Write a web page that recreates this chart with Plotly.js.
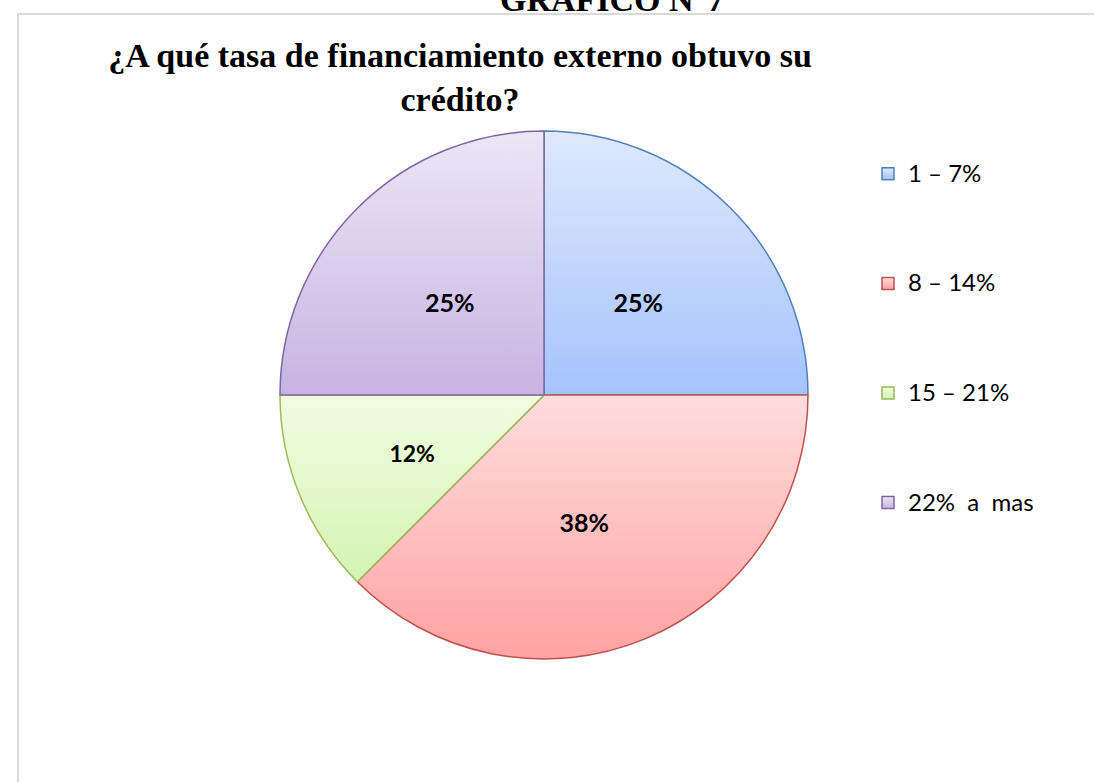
<!DOCTYPE html>
<html>
<head>
<meta charset="utf-8">
<script src="https://cdn.plot.ly/plotly-3.0.1.min.js"></script>
<style>
  html, body { margin: 0; padding: 0; background: #ffffff; }
  #chart { width: 1094px; height: 782px; }
</style>
</head>
<body>
<div id="chart"></div>
<script>
// ---- data ----
const categories = ["1 – 7%", "8 – 14%", "15 – 21%", "22%  a  mas"];
const values = [2, 3, 1, 2];
const pctLabels = ["25%", "38%", "12%", "25%"];
const chartTitle = "¿A qué tasa de financiamiento externo obtuvo su<br>crédito?";
const headerText = "GRAFICO N°7";

// ---- styles ----
const fillColors = ["#c2d6fc", "#ffc0c0", "#e6f8cf", "#dacdec"];
const gradTop = ["#dfe9fd", "#ffdddd", "#f1fde2", "#ece6f6"];
const gradBottom = ["#a5c3fc", "#ffa2a2", "#d5f3b3", "#c7b4e2"];
const lineColors = ["#4f81bd", "#c0504d", "#9bbb59", "#8064a2"];

const NB = "\u00a0";
// invisible padding so Plotly's inside labels sit where the reference shows them
const padBefore = [NB + "<br>", "", NB.repeat(16), NB + "<br>" + NB.repeat(5)];
const padAfter = [NB.repeat(5), NB.repeat(4), "<br>" + NB, ""];
const sliceText = pctLabels.map((t, i) => padBefore[i] + t + padAfter[i]);

// legend labels padded with blank lines to spread the entries vertically
const legendLabels = categories.map(c => "<span style='font-size:24px'>" + c + "</span><br> <br> <br> ");

const W = 1094, H = 782;

const trace = {
  type: "pie",
  labels: legendLabels,
  values: values,
  text: sliceText,
  textinfo: "text",
  textposition: "inside",
  insidetextorientation: "horizontal",
  sort: false,
  direction: "clockwise",
  rotation: 0,
  marker: { colors: fillColors, line: { color: lineColors, width: 1.5 } },
  textfont: { family: "Lato, 'Liberation Sans', sans-serif", size: 25, color: "#000000", weight: "bold" },
  domain: { x: [280 / W, 808 / W], y: [(H - 659) / H, (H - 131) / H] },
  hoverinfo: "percent"
};

const layout = {
  width: W, height: H,
  margin: { l: 0, r: 0, t: 0, b: 0 },
  paper_bgcolor: "#ffffff",
  showlegend: true,
  legend: {
    x: 868 / W, y: (H - 154) / H, xanchor: "left", yanchor: "top",
    valign: "top",
    font: { family: "Lato, 'Liberation Sans', sans-serif", size: 20.5, color: "#000000" },
    itemwidth: 30,
    bgcolor: "rgba(0,0,0,0)"
  },
  title: {
    text: chartTitle,
    x: 460 / W, xanchor: "center",
    xref: "paper",
    y: 1 - 67 / H, yanchor: "top", yref: "container",
    font: { family: "'Liberation Serif', 'Times New Roman', serif", size: 34, color: "#000000", weight: "bold" }
  },
  annotations: [{
    text: headerText, showarrow: false,
    xref: "paper", yref: "paper",
    x: 612 / W, y: 1 - 20 / H, xanchor: "center", yanchor: "bottom",
    font: { family: "'Liberation Serif', 'Times New Roman', serif", size: 34, color: "#000000", weight: "bold" }
  }],
  shapes: [{
    type: "rect", xref: "paper", yref: "paper",
    x0: 18 / W, x1: 1.05, y0: -0.05, y1: (H - 14) / H,
    line: { color: "#d9d9d9", width: 2 }, fillcolor: "rgba(0,0,0,0)", layer: "below"
  }]
};

function applyGradients(gd) {
  const svg = gd.querySelector("svg.main-svg");
  if (!svg) return;
  const NS = "http://www.w3.org/2000/svg";
  let defs = svg.querySelector("defs");
  if (!defs) { defs = document.createElementNS(NS, "defs"); svg.insertBefore(defs, svg.firstChild); }
  gradTop.forEach((top, i) => {
    const g = document.createElementNS(NS, "linearGradient");
    g.setAttribute("id", "sliceGrad" + i);
    g.setAttribute("x1", "0"); g.setAttribute("y1", "0");
    g.setAttribute("x2", "0"); g.setAttribute("y2", "1");
    const s1 = document.createElementNS(NS, "stop");
    s1.setAttribute("offset", "0"); s1.setAttribute("stop-color", top);
    const s2 = document.createElementNS(NS, "stop");
    s2.setAttribute("offset", "1"); s2.setAttribute("stop-color", gradBottom[i]);
    g.appendChild(s1); g.appendChild(s2);
    defs.appendChild(g);
  });
  gd.querySelectorAll("g.slice").forEach((sl, k) => {
    const p = sl.querySelector("path.surface");
    if (p) p.style.fill = "url(#sliceGrad" + k + ")";
  });
  gd.querySelectorAll("g.legend g.traces").forEach((tr, k) => {
    const p = tr.querySelector(".legendpoints path");
    if (p) p.style.fill = "url(#sliceGrad" + k + ")";
  });
}

Plotly.newPlot("chart", [trace], layout, { displayModeBar: false, staticPlot: true })
  .then(gd => applyGradients(gd));
</script>
</body>
</html>
